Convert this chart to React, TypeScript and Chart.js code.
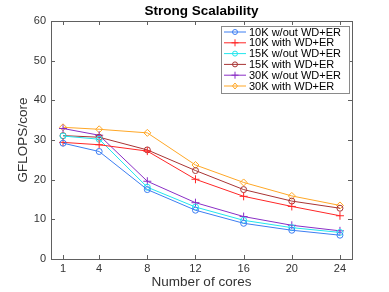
import React, { useEffect, useRef } from "react";
import { Chart, registerables } from "chart.js";

Chart.register(...registerables);

const cores = [1, 4, 8, 12, 16, 20, 24];
const yTickValues = [0, 10, 20, 30, 40, 50, 60];

const labels10kWithout = "10K w/out WD+ER";
const labels10kWith = "10K with WD+ER";
const labels15kWithout = "15K w/out WD+ER";
const labels15kWith = "15K with WD+ER";
const labels30kWithout = "30K w/out WD+ER";
const labels30kWith = "30K with WD+ER";

const s10kWithout = [29.2, 27.1, 17.5, 12.3, 9.0, 7.25, 6.0];
const s10kWith = [29.4, 28.8, 27.2, 20.1, 15.8, 13.25, 10.9];
const s15kWithout = [31.0, 30.2, 18.1, 13.1, 9.75, 7.9, 6.7];
const s15kWith = [31.1, 30.7, 27.5, 22.3, 17.5, 14.6, 12.8];
const s30kWithout = [32.9, 31.2, 19.6, 14.2, 10.7, 8.5, 7.1];
const s30kWith = [33.2, 32.7, 31.8, 23.7, 19.3, 15.9, 13.5];

const FONT = "'Liberation Sans', Arial, Helvetica, sans-serif";
const TEXT = "#333333";
const AXIS = "#606060";

type Spec = { label: string; data: number[]; color: string; style: string; r: number };

const specs: Spec[] = [
  { label: labels10kWithout, data: s10kWithout, color: "#3d7ef2", style: "circle", r: 3 },
  { label: labels10kWith, data: s10kWith, color: "#ff2626", style: "cross", r: 4 },
  { label: labels15kWithout, data: s15kWithout, color: "#22e6ee", style: "circle", r: 3 },
  { label: labels15kWith, data: s15kWith, color: "#a83434", style: "circle", r: 3 },
  { label: labels30kWithout, data: s30kWithout, color: "#8a2fc6", style: "cross", r: 4 },
  { label: labels30kWith, data: s30kWith, color: "#ffa726", style: "rectRot", r: 3.5 },
];

const decorPlugin = {
  id: "decor",
  afterDraw(chart: any) {
    const ctx = chart.ctx as CanvasRenderingContext2D;
    const { left, right, top, bottom } = chart.chartArea;
    const xs = chart.scales.x;
    const ys = chart.scales.y;
    ctx.save();
    ctx.strokeStyle = AXIS;
    ctx.lineWidth = 1;
    ctx.strokeRect(Math.round(left) + 0.5, Math.round(top) + 0.5, Math.round(right - left), Math.round(bottom - top));
    const tl = 4;
    ctx.beginPath();
    for (const v of cores) {
      const px = Math.round(xs.getPixelForValue(v)) + 0.5;
      ctx.moveTo(px, bottom);
      ctx.lineTo(px, bottom - tl);
      ctx.moveTo(px, top);
      ctx.lineTo(px, top + tl);
    }
    for (const v of yTickValues) {
      const py = Math.round(ys.getPixelForValue(v)) + 0.5;
      ctx.moveTo(left, py);
      ctx.lineTo(left + tl, py);
      ctx.moveTo(right, py);
      ctx.lineTo(right - tl, py);
    }
    ctx.stroke();

    ctx.fillStyle = "#000";
    ctx.font = `bold 13.5px ${FONT}`;
    ctx.textAlign = "center";
    ctx.textBaseline = "middle";
    ctx.fillText("Strong Scalability", (left + right) / 2, 11);

    const lx = 221.5, ly = 26.5, lw = 128, lh = 67;
    ctx.fillStyle = "#fff";
    ctx.fillRect(lx, ly, lw, lh);
    ctx.strokeStyle = "#8a8a8a";
    ctx.strokeRect(lx, ly, lw, lh);
    chart.data.datasets.forEach((ds: any, i: number) => {
      const cy = 32 + i * 10.8;
      ctx.strokeStyle = ds.borderColor;
      ctx.lineWidth = 1;
      ctx.beginPath();
      ctx.moveTo(224, cy);
      ctx.lineTo(246, cy);
      ctx.stroke();
      const st = ds.pointStyle;
      const r = st === "cross" ? 3.5 : 2.5;
      ctx.beginPath();
      if (st === "circle") {
        ctx.arc(235, cy, r, 0, Math.PI * 2);
      } else if (st === "cross") {
        ctx.moveTo(235 - r, cy);
        ctx.lineTo(235 + r, cy);
        ctx.moveTo(235, cy - r);
        ctx.lineTo(235, cy + r);
      } else {
        ctx.moveTo(235, cy - r - 0.5);
        ctx.lineTo(235 + r, cy);
        ctx.lineTo(235, cy + r + 0.5);
        ctx.lineTo(235 - r, cy);
        ctx.closePath();
      }
      ctx.stroke();
      ctx.fillStyle = "#000";
      ctx.font = `11px ${FONT}`;
      ctx.textAlign = "left";
      ctx.textBaseline = "middle";
      ctx.fillText(ds.label, 249, cy + 0.5);
    });
    ctx.restore();
  },
};

export default function App() {
  const ref = useRef<HTMLCanvasElement>(null);
  useEffect(() => {
    document.body.style.margin = "0";
    const canvas = ref.current;
    if (!canvas) return;
    const chart = new Chart(canvas, {
      type: "line",
      data: {
        datasets: specs.map((s) => ({
          label: s.label,
          data: cores.map((c, i) => ({ x: c, y: s.data[i] })),
          borderColor: s.color,
          backgroundColor: "rgba(0,0,0,0)",
          pointBackgroundColor: "rgba(0,0,0,0)",
          pointBorderColor: s.color,
          pointStyle: s.style as any,
          pointRadius: s.r,
          pointBorderWidth: 1,
          borderWidth: 1,
          tension: 0,
          fill: false,
        })),
      },
      options: {
        responsive: false,
        devicePixelRatio: 1,
        animation: false,
        layout: { padding: { top: 21, right: 37, left: 0, bottom: 0 } },
        plugins: {
          legend: { display: false },
          title: { display: false },
          tooltip: { enabled: false },
        },
        scales: {
          x: {
            type: "linear",
            min: 0,
            max: 25,
            afterBuildTicks: (scale: any) => {
              scale.ticks = cores.map((v) => ({ value: v }));
            },
            afterFit: (scale: any) => {
              scale.height = 33;
            },
            grid: { display: false, drawTicks: false },
            border: { display: false },
            ticks: {
              autoSkip: false,
              maxRotation: 0,
              padding: 3,
              color: TEXT,
              font: { family: FONT, size: 11 },
            },
            title: {
              display: true,
              text: "Number of cores",
              color: TEXT,
              font: { family: FONT, size: 13.5 },
              padding: { top: 0, bottom: 2 },
            },
          },
          y: {
            type: "linear",
            min: 0,
            max: 60,
            afterBuildTicks: (scale: any) => {
              scale.ticks = yTickValues.map((v) => ({ value: v }));
            },
            afterFit: (scale: any) => {
              scale.width = 51;
            },
            grid: { display: false, drawTicks: false },
            border: { display: false },
            ticks: {
              padding: 5,
              color: TEXT,
              font: { family: FONT, size: 11 },
            },
            title: {
              display: true,
              text: "GFLOPS/core",
              color: TEXT,
              font: { family: FONT, size: 13.5 },
              padding: { top: 15, bottom: 0 },
            },
          },
        },
      },
      plugins: [decorPlugin],
    });
    return () => chart.destroy();
  }, []);
  return (
    <div style={{ width: 389, height: 292 }}>
      <canvas ref={ref} width={389} height={292} />
    </div>
  );
}
